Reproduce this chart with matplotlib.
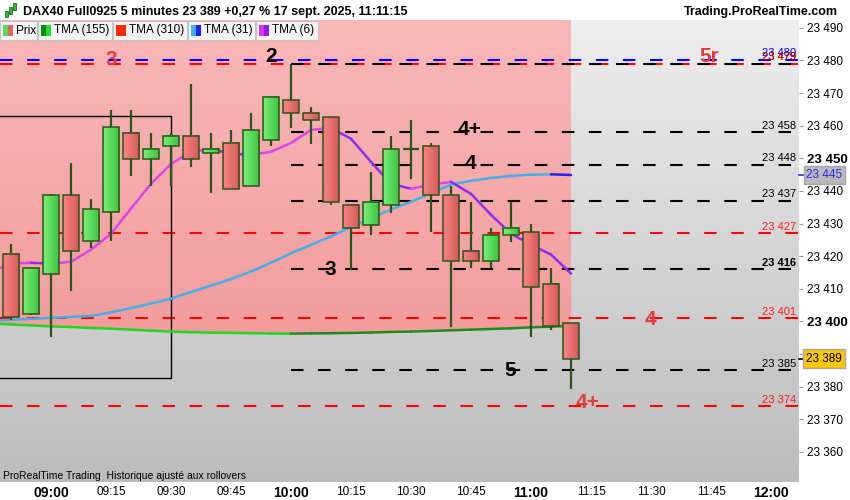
import numpy as np
import matplotlib
matplotlib.use("Agg")
import matplotlib.pyplot as plt
import matplotlib.transforms as mtransforms
from matplotlib.patches import Rectangle
from matplotlib.collections import LineCollection
from matplotlib.colors import LinearSegmentedColormap

FONT = ["Liberation Sans", "DejaVu Sans"]
NARROW = ["Liberation Sans Narrow", "Liberation Sans", "DejaVu Sans"]
plt.rcParams["font.family"] = FONT

# 5-minute bars, first one opens at 08:50
first_bar = 8 * 60 + 50
bar_minutes = 5

opens = [23420.7, 23402.2, 23414.5, 23438.7, 23424.7, 23433.5, 23457.7, 23449.7, 23453.7, 23456.8,
         23451.6, 23454.7, 23441.5, 23455.6, 23467.8, 23463.8, 23462.6, 23435.7, 23429.5, 23435.7,
         23453.0, 23453.7, 23438.7, 23421.6, 23418.5, 23426.5, 23427.4, 23411.5, 23399.5]
highs = [23423.6, 23416.4, 23439.0, 23448.6, 23437.6, 23464.7, 23464.7, 23457.8, 23457.8, 23472.7,
         23457.8, 23458.6, 23463.9, 23468.8, 23479.0, 23465.7, 23462.6, 23435.7, 23445.9, 23456.8,
         23461.7, 23454.7, 23441.5, 23436.7, 23428.7, 23436.5, 23429.8, 23416.5, 23399.5]
lows = [23400.5, 23402.0, 23395.2, 23409.4, 23422.4, 23424.7, 23444.6, 23441.5, 23441.5, 23447.4,
        23439.5, 23440.6, 23441.5, 23453.7, 23459.4, 23454.5, 23435.7, 23415.7, 23426.5, 23433.4,
        23443.6, 23427.3, 23398.3, 23416.3, 23416.3, 23424.5, 23395.2, 23397.5, 23379.4]
closes = [23401.3, 23416.4, 23438.7, 23421.6, 23434.5, 23459.5, 23449.7, 23452.8, 23456.8, 23449.7,
          23453.0, 23440.6, 23458.6, 23468.8, 23463.9, 23461.6, 23436.6, 23428.5, 23436.6, 23452.8,
          23453.0, 23438.7, 23418.5, 23418.5, 23426.5, 23428.7, 23410.6, 23398.5, 23388.6]

# moving averages, starting one bar before the first visible candle
tma155 = [23399.4, 23399.1, 23398.8, 23398.5, 23398.3, 23398.0, 23397.8, 23397.5, 23397.2, 23396.9,
          23396.7, 23396.6, 23396.5, 23396.4, 23396.3, 23396.28, 23396.35, 23396.4, 23396.5, 23396.6,
          23396.8, 23396.9, 23397.1, 23397.3, 23397.5, 23397.7, 23397.9, 23398.2, 23398.4, 23398.7]
tma31 = [23400.2, 23400.5, 23400.8, 23401.1, 23401.4, 23401.7, 23402.8, 23404.1, 23405.5, 23407.0,
         23409.0, 23411.0, 23413.0, 23415.3, 23418.0, 23420.9, 23423.5, 23426.1, 23428.9, 23431.7,
         23434.3, 23436.7, 23439.3, 23442.0, 23443.1, 23444.0, 23444.6, 23445.0, 23445.1, 23444.9]
tma6 = [23415.3, 23417.7, 23418.0, 23417.7, 23418.3, 23422.0, 23426.9, 23434.6, 23442.2, 23448.3,
        23452.0, 23452.9, 23451.4, 23451.1, 23452.0, 23454.7, 23458.7, 23459.3, 23456.0, 23448.9,
        23442.2, 23440.7, 23441.9, 23442.8, 23439.1, 23432.7, 23426.9, 23423.5, 23420.5, 23414.7]

red_levels = [23479, 23427, 23401, 23374]
black_levels = [23479, 23458, 23448, 23437, 23416, 23385]
blue_levels = [23480]
black_from = "10:00"

notes_text = ["3", "2", "5r", "4+", "4", "3", "5", "4", "4+"]
notes_bar = [5, 13, 34.9, 22.95, 22.95, 15.95, 24.95, 31.95, 28.85]
notes_price = [23480.2, 23481.1, 23481.1, 23458.7, 23448.5, 23415.8, 23385.1, 23400.5, 23375.3]
notes_red = [True, False, True, False, False, False, False, True, True]

box_start, box_end = "08:45", "09:30"
box_low, box_high = 23382.6, 23463.0

time_labels = ["09:00", "09:15", "09:30", "09:45", "10:00", "10:15", "10:30",
               "10:45", "11:00", "11:15", "11:30", "11:45", "12:00"]
price_ticks = list(range(23360, 23491, 10))

header = "DAX40 Full0925 5 minutes 23 389 +0,27 % 17 sept. 2025, 11:11:15"
legend_items = ["Prix", "TMA (155)", "TMA (310)", "TMA (31)", "TMA (6)"]
legend_cols = [("#5cd65c", "#e06666"), ("#0a8a0a", "#22dd22"), ("#ff2a00", "#ff2a00"),
               ("#40b0f0", "#2020ff"), ("#dd33ee", "#8822ee")]

RED = "#ff0000"
NOTE_RED = "#e23c3c"
WICK = "#2b5418"


def bar_index(hhmm):
    h, m = hhmm.split(":")
    return (int(h) * 60 + int(m) - first_bar) / bar_minutes


def fmt(v):
    return f"{int(round(v)):,}".replace(",", " ")


def fx(x):
    return x / 850


def fy(y):
    return 1 - y / 500


fig = plt.figure(figsize=(8.5, 5), dpi=100)
fig.patch.set_facecolor("white")
ax = fig.add_axes([0, 18 / 500, 799 / 850, 462 / 500])

xlo, xhi = -0.55, 39.4
ylo, yhi = 23350.8, 23492.4

# grey background
grey = LinearSegmentedColormap.from_list("grey", ["#bcbcbc", "#eeeeee"])
ax.imshow(np.linspace(0, 1, 256).reshape(-1, 1), extent=[xlo, xhi, ylo, yhi], origin="lower",
          cmap=grey, aspect="auto", zorder=0, interpolation="bilinear")

# pink band above the long average, up to the last bar
ma_x = np.arange(len(tma155)) - 1
n = len(closes)
band = ax.fill_between(ma_x, tma155, yhi, facecolor="none", edgecolor="none")
pink = LinearSegmentedColormap.from_list("pink", ["#f39c9c", "#f8b8b8"])
pim = ax.imshow(np.linspace(0, 1, 256).reshape(-1, 1), extent=[xlo, n - 1, 23395, yhi], origin="lower",
                cmap=pink, aspect="auto", zorder=1, interpolation="bilinear")
pim.set_clip_path(band.get_paths()[0], transform=ax.transData)

# levels
dash = (0, (6, 7))
ax.hlines(red_levels, xlo, xhi, colors=RED, linestyles=dash, lw=1.5, zorder=2)
ax.hlines(blue_levels, xlo, xhi, colors="#0000ff", linestyles=dash, lw=1.5, zorder=2)
ax.hlines(black_levels, bar_index(black_from), xhi, colors="black", linestyles=dash, lw=1.5, zorder=2)

lab_tr = mtransforms.blended_transform_factory(ax.transAxes, ax.transData)
for lv in blue_levels:
    ax.text(0.996, lv + 0.8, fmt(lv), color="#0000ff", fontsize=8, ha="right", va="bottom",
            transform=lab_tr, zorder=6)
for lv in black_levels:
    ax.text(0.996, lv + 0.5, fmt(lv), color="black", fontsize=8, ha="right", va="bottom",
            fontweight="bold" if lv == 23416 else "normal", transform=lab_tr, zorder=6)
for lv in red_levels:
    ax.text(0.996, lv + 0.5, fmt(lv), color=RED, fontsize=8, ha="right", va="bottom",
            transform=lab_tr, zorder=6, alpha=0.85)

# box
bx0 = bar_index(box_start)
ax.add_patch(Rectangle((bx0, box_low), bar_index(box_end) - bx0, box_high - box_low,
                       fill=False, edgecolor="black", lw=1, zorder=3))

# moving averages, coloured by slope
def ma_line(vals, up_col, down_col):
    pts = np.column_stack([ma_x, vals])
    segs = np.stack([pts[:-1], pts[1:]], axis=1)
    cols = [up_col if b > a else down_col for a, b in zip(vals[:-1], vals[1:])]
    ax.add_collection(LineCollection(segs, colors=cols, linewidths=1.8, capstyle="round", zorder=5))


ma_line(tma155, "#1f8c1f", "#22d622")
ma_line(tma31, "#45aee8", "#2525f0")
ma_line(tma6, "#dd44ee", "#8a30ee")

# candles
red_cm = LinearSegmentedColormap.from_list("r", ["#fa8484", "#d45a5a"])
green_cm = LinearSegmentedColormap.from_list("g", ["#78f078", "#3fc43f"])
grad = np.linspace(0, 1, 32).reshape(1, -1)
half = 0.4
for i in range(n):
    o, h, l, c = opens[i], highs[i], lows[i], closes[i]
    ax.vlines(i, l, h, colors=WICK, lw=1.6, zorder=6)
    lo, hi = min(o, c), max(o, c)
    if hi - lo < 0.3:
        ax.hlines(o, i - half, i + half, colors=WICK, lw=1.6, zorder=7)
        continue
    cm = green_cm if c > o else red_cm
    ax.imshow(grad, extent=[i - half, i + half, lo, hi], cmap=cm, aspect="auto", zorder=7,
              interpolation="bilinear")
    ax.add_patch(Rectangle((i - half, lo), 2 * half, hi - lo, fill=False, edgecolor=WICK, lw=1.1, zorder=8))

# annotations
for t, b, p, r in zip(notes_text, notes_bar, notes_price, notes_red):
    ax.text(b, p, t, color=NOTE_RED if r else "black", fontsize=15, fontweight="bold",
            ha="center", va="center", zorder=9)

ax.set_xlim(xlo, xhi)
ax.set_ylim(ylo, yhi)
for s in ax.spines.values():
    s.set_visible(False)

# time axis
ax.set_xticks([bar_index(t) for t in time_labels])
ax.set_xticklabels(time_labels)
for lab, t in zip(ax.get_xticklabels(), time_labels):
    lab.set_fontfamily(NARROW)
    if t.endswith(":00"):
        lab.set_fontweight("bold")
        lab.set_fontsize(10)
    else:
        lab.set_fontsize(8.5)
ax.tick_params(axis="x", length=0, pad=3)

# price axis
ax.yaxis.tick_right()
ax.set_yticks(price_ticks)
ax.set_yticklabels([fmt(v) for v in price_ticks])
for lab, v in zip(ax.get_yticklabels(), price_ticks):
    if v in (23450, 23400):
        lab.set_fontweight("bold")
        lab.set_fontsize(9.5)
    else:
        lab.set_fontsize(8.5)
ax.tick_params(axis="y", length=3, color="#999999", pad=3, direction="out")

# value tags on the price axis
ax.text(1.009, tma31[-1], fmt(tma31[-1]), transform=lab_tr, color="#2a2aff", fontsize=8.5,
        va="center", ha="left", zorder=10,
        bbox=dict(boxstyle="square,pad=0.22", facecolor="#b9b9b9", edgecolor="#a8a8a8"))
ax.text(1.009, closes[-1], fmt(closes[-1]), transform=lab_tr, color="black", fontsize=8.5,
        va="center", ha="left", zorder=10,
        bbox=dict(boxstyle="square,pad=0.3", facecolor="#f8c800", edgecolor="#a8a8a8"))
ax.plot([1.0, 1.006], [tma31[-1]] * 2, color="#2a2aff", lw=1.2, transform=lab_tr, clip_on=False)
ax.plot([1.0, 1.006], [closes[-1]] * 2, color="black", lw=1.2, transform=lab_tr, clip_on=False)

# footer
fig.text(fx(3), fy(476), "ProRealTime Trading  Historique ajusté aux rollovers", fontsize=7.5,
         family=NARROW, va="center", ha="left")

# header
fig.text(fx(23), fy(12), header, fontsize=9, fontweight="bold", va="center", ha="left")
fig.text(fx(838), fy(12), "Trading.ProRealTime.com", fontsize=9, fontweight="bold", va="center", ha="right")
for x0, y0, y1 in [(5, 11, 17), (9, 7, 14), (13, 3, 10)]:
    fig.add_artist(Rectangle((fx(x0), fy(y1)), 3 / 850, (y1 - y0) / 500, transform=fig.transFigure,
                             facecolor="#33bb33", edgecolor="#226622", lw=0.6))

# legend strip
box_x = [0, 38, 113, 188, 256]
box_w = [37, 74, 74, 67, 62]
for name, (c1, c2), x0, w in zip(legend_items, legend_cols, box_x, box_w):
    fig.add_artist(Rectangle((fx(x0), fy(40)), w / 850, 19 / 500, transform=fig.transFigure,
                             facecolor="#f3f3f3", edgecolor="#c4c4c4", lw=0.8, zorder=20))
    fig.add_artist(Rectangle((fx(x0 + 3), fy(36)), 5 / 850, 11 / 500, transform=fig.transFigure,
                             facecolor=c1, edgecolor="none", zorder=21))
    fig.add_artist(Rectangle((fx(x0 + 8), fy(36)), 5 / 850, 11 / 500, transform=fig.transFigure,
                             facecolor=c2, edgecolor="none", zorder=21))
    fig.text(fx(x0 + 16), fy(30.5), name, fontsize=8.5, va="center", ha="left", zorder=22)

fig.savefig("out.png", dpi=100)
